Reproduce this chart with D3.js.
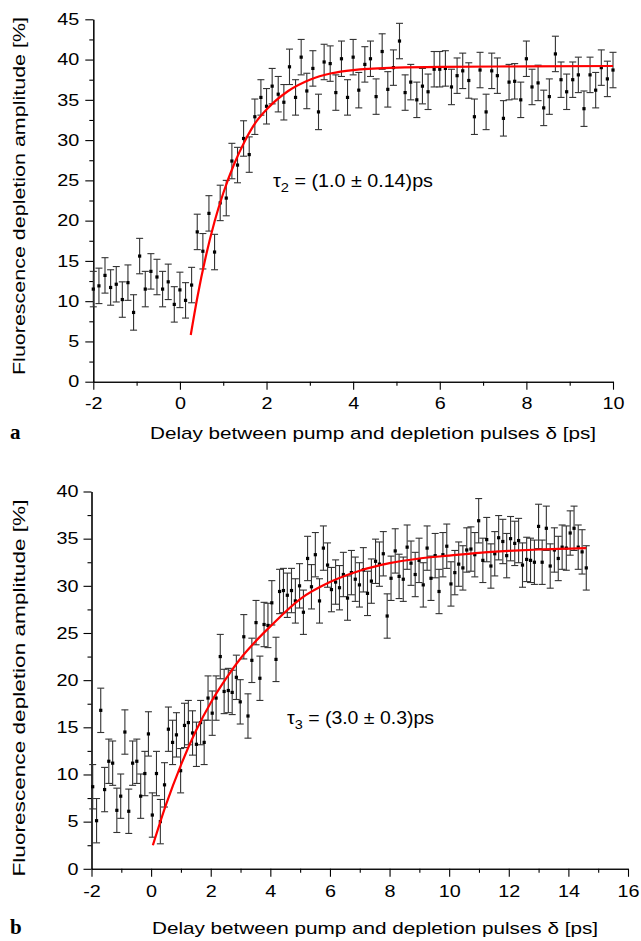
<!DOCTYPE html>
<html>
<head>
<meta charset="utf-8">
<script src="https://cdn.jsdelivr.net/npm/d3@7"></script>
<style>
body { margin: 0; background: #fff; }
svg text { font-family: "Liberation Sans", Arial, sans-serif; fill: #000; }
</style>
</head>
<body>
<svg id="chart" width="641" height="941"></svg>
<script>
// panel a: delay (ps) and depletion amplitude (%)
var topX = [-2.00,-1.87,-1.73,-1.60,-1.47,-1.33,-1.20,-1.07,-0.93,-0.80,-0.67,-0.53,-0.40,-0.27,-0.13,
    0.00,0.13,0.27,0.40,0.53,0.67,0.80,0.93,1.07,1.20,1.33,1.47,1.60,1.73,1.87,2.00,2.13,2.27,
    2.40,2.53,2.67,2.80,2.93,3.07,3.20,3.33,3.47,3.60,3.73,3.87,4.00,4.13,4.27,4.40,4.53,4.67,4.80,4.93,
    5.07,5.20,5.33,5.47,5.60,5.73,5.87,6.00,6.13,
    6.27,6.40,6.53,6.67,6.80,6.93,7.07,7.20,7.33,7.47,7.60,7.73,7.87,8.00,8.13,8.27,8.40,8.53,8.67,8.80,
    8.93,9.07,9.20,9.33,9.47,9.60,9.73,9.87,10.00];
var topY = [11.5,11.9,13.2,11.7,12.1,10.2,12.3,8.6,15.6,11.5,13.7,13.0,11.5,12.4,9.6,
    11.4,10.1,12.0,18.6,16.2,20.9,16.1,22.2,22.8,27.4,26.9,30.2,28.2,32.9,35.3,34.2,36.7,35.7,
    34.7,39.1,35.3,40.3,36.1,38.9,33.5,39.7,39.5,35.9,40.1,35.3,40.3,36.2,39.4,40.1,35.4,41.0,36.3,39.0,
    42.3,35.9,37.2,35.0,36.7,36.0,38.8,38.8,38.9,
    36.6,38.0,38.6,37.4,32.9,38.7,33.5,38.6,38.0,32.7,37.2,37.3,35.0,40.1,36.6,37.1,34.0,35.4,40.7,37.5,
    36.0,37.5,38.1,33.9,38.1,36.2,39.0,37.6,38.7];
var topErr = 2.2;
var topFitX = [0.25,0.4,0.6,0.8,1.0,1.25,1.5,1.75,2.0,2.5,3.0,3.5,4.0,5.0,6.0,8.0,10.0];
var topFitY = [5.8,10.4,15.6,19.9,23.4,27.0,29.9,32.2,33.8,36.1,37.5,38.3,38.7,39.0,39.1,39.15,39.2];

// panel b
var botX = [-1.96,-1.83,-1.69,-1.56,-1.42,-1.29,-1.15,-1.02,-0.88,-0.75,-0.62,-0.48,-0.35,-0.21,-0.09,
    0.04,0.18,0.31,0.45,0.58,0.72,0.85,0.99,1.12,1.25,1.39,1.52,1.66,1.78,1.91,2.05,2.18,2.32,2.45,
    2.59,2.72,2.86,2.99,3.11,3.25,3.38,3.52,3.65,3.79,3.92,4.05,4.19,4.31,
    4.44,4.57,4.71,4.84,4.98,5.11,5.25,5.38,5.51,5.65,5.78,5.92,6.05,6.19,6.32,6.45,6.59,6.72,6.85,6.99,
    7.12,7.26,7.39,7.53,7.66,7.79,7.92,8.05,8.19,8.32,8.46,8.59,8.72,8.86,8.99,9.13,9.26,9.39,9.53,9.66,
    9.79,9.92,
    10.06,10.19,10.32,10.46,10.59,10.73,10.86,10.99,11.13,11.26,11.40,11.53,11.66,11.80,11.93,12.06,
    12.20,12.33,12.46,12.60,12.73,12.86,13.00,13.12,13.26,13.39,13.53,13.66,13.79,13.93,14.06,14.19,
    14.33,14.46,14.60];
var botY = [8.7,5.1,16.8,8.4,11.4,11.2,6.2,7.7,14.5,6.1,11.2,11.4,7.7,10.1,14.3,
    5.7,10.1,5.0,8.9,14.8,13.4,14.2,10.4,15.2,15.5,14.4,13.2,15.5,13.4,18.1,16.5,18.1,22.5,18.8,
    18.9,18.7,20.3,17.7,24.6,16.2,22.1,26.1,20.2,25.9,25.8,28.2,22.2,29.4,
    29.5,29.0,29.5,28.4,30.0,27.2,32.9,29.9,33.3,28.4,34.0,32.2,29.6,30.4,29.8,31.2,28.7,31.4,30.7,30.1,
    31.7,29.2,30.5,32.6,32.3,33.4,26.8,30.8,33.7,31.0,30.7,34.1,32.4,31.2,32.7,30.1,34.0,30.8,33.2,29.4,
    33.3,34.2,
    30.2,31.4,32.3,31.9,33.8,33.9,33.3,36.9,32.7,34.9,32.1,33.4,35.1,34.7,33.2,35.0,
    34.5,34.8,32.2,32.8,32.7,32.5,36.3,32.5,36.1,32.1,33.8,32.9,34.1,34.0,35.6,36.1,
    34.1,33.6,31.9];
var botErr = 2.35;
var botFitX = [0.06,0.5,1.0,1.5,2.0,2.5,3.0,3.5,4.0,5.0,6.0,7.0,8.0,9.0,10.0,11.0,12.0,13.0,14.6];
var botFitY = [2.5,6.8,11.0,14.6,17.6,20.1,22.3,24.1,25.7,28.6,30.4,31.6,32.4,32.9,33.2,33.5,33.7,33.85,34.0];

var topXTicks = [-2,0,2,4,6,8,10];
var botXTicks = [-2,0,2,4,6,8,10,12,14,16];
var topYTicks = [0,5,10,15,20,25,30,35,40,45];
var botYTicks = [0,5,10,15,20,25,30,35,40];

var xTitle = 'Delay between pump and depletion pulses \u03b4 [ps]';
var yTitle = 'Fluorescence depletion amplitude [%]';

var svg = d3.select('#chart');
svg.append('rect').attr('width', 641).attr('height', 941).attr('fill', '#fff');

var stretch = 1.2;

function drawPanel(p) {
    var x = d3.scaleLinear().domain(p.xDomain).range(p.xRange);
    var y = d3.scaleLinear().domain(p.yDomain).range(p.yRange);
    var g = svg.append('g');

    // minor ticks first, no labels
    g.append('g')
        .attr('transform', 'translate(0,' + p.yRange[0] + ')')
        .call(d3.axisBottom(x).tickValues(p.xMinor).tickSize(4).tickSizeOuter(0).tickFormat(''));
    g.append('g')
        .attr('transform', 'translate(' + p.xRange[0] + ',0)')
        .call(d3.axisLeft(y).tickValues(p.yMinor).tickSize(4).tickSizeOuter(0).tickFormat(''));

    var xAxis = g.append('g')
        .attr('transform', 'translate(0,' + p.yRange[0] + ')')
        .call(d3.axisBottom(x).tickValues(p.xTicks).tickSize(8).tickSizeOuter(0)
            .tickFormat(function(d) { return String(d); }));
    xAxis.selectAll('text')
        .attr('y', 16)
        .attr('dy', '0.71em')
        .style('font-size', '16.5px')
        .attr('transform', 'scale(' + stretch + ',1)');

    var yAxis = g.append('g')
        .attr('transform', 'translate(' + p.xRange[0] + ',0)')
        .call(d3.axisLeft(y).tickValues(p.yTicks).tickSize(8).tickSizeOuter(0)
            .tickFormat(function(d) { return String(d); }));
    yAxis.selectAll('text')
        .attr('x', -p.labelGap / stretch)
        .style('font-size', '16.5px')
        .attr('transform', 'scale(' + stretch + ',1)');

    g.selectAll('.domain, .tick line').attr('stroke', '#000').attr('stroke-width', 1.1);

    var pts = d3.range(p.xs.length).map(function(i) { return {x: p.xs[i], v: p.ys[i]}; });

    var bars = g.append('g').attr('stroke', '#333').attr('stroke-width', 1.1);
    bars.selectAll('.stem')
        .data(pts)
        .enter().append('line')
        .attr('class', 'stem')
        .attr('x1', function(d) { return x(d.x); })
        .attr('x2', function(d) { return x(d.x); })
        .attr('y1', function(d) { return y(d.v - p.err); })
        .attr('y2', function(d) { return y(d.v + p.err); });
    bars.selectAll('.capTop')
        .data(pts)
        .enter().append('line')
        .attr('class', 'capTop')
        .attr('x1', function(d) { return x(d.x) - 3.5; })
        .attr('x2', function(d) { return x(d.x) + 3.5; })
        .attr('y1', function(d) { return y(d.v + p.err); })
        .attr('y2', function(d) { return y(d.v + p.err); });
    bars.selectAll('.capBot')
        .data(pts)
        .enter().append('line')
        .attr('class', 'capBot')
        .attr('x1', function(d) { return x(d.x) - 3.5; })
        .attr('x2', function(d) { return x(d.x) + 3.5; })
        .attr('y1', function(d) { return y(d.v - p.err); })
        .attr('y2', function(d) { return y(d.v - p.err); });

    g.selectAll('.pt')
        .data(pts)
        .enter().append('rect')
        .attr('class', 'pt')
        .attr('x', function(d) { return x(d.x) - 1.6; })
        .attr('y', function(d) { return y(d.v) - 1.6; })
        .attr('width', 3.2)
        .attr('height', 3.2)
        .attr('fill', '#000');

    var fit = d3.range(p.fitX.length).map(function(i) { return [p.fitX[i], p.fitY[i]]; });
    g.append('path')
        .datum(fit)
        .attr('fill', 'none')
        .attr('stroke', '#ff0000')
        .attr('stroke-width', 2.2)
        .attr('d', d3.line()
            .x(function(d) { return x(d[0]); })
            .y(function(d) { return y(d[1]); })
            .curve(d3.curveMonotoneX));

    // tau annotation
    var t = g.append('text')
        .attr('x', p.tauPos[0])
        .attr('y', p.tauPos[1])
        .attr('textLength', p.tauLen)
        .attr('lengthAdjust', 'spacingAndGlyphs')
        .style('font-size', '17.5px');
    t.append('tspan').text('\u03c4');
    t.append('tspan').attr('dy', 5).style('font-size', '13px').text(p.tauSub);
    t.append('tspan').attr('dy', -5).text(' = ' + p.tauText);

    // axis titles
    g.append('text')
        .attr('x', p.xTitlePos[0])
        .attr('y', p.xTitlePos[1])
        .attr('text-anchor', 'middle')
        .attr('textLength', p.xTitleLen)
        .attr('lengthAdjust', 'spacingAndGlyphs')
        .style('font-size', '17px')
        .text(xTitle);
    g.append('text')
        .attr('transform', 'translate(' + p.yTitlePos[0] + ',' + p.yTitlePos[1] + ') rotate(-90)')
        .attr('text-anchor', 'middle')
        .attr('textLength', p.yTitleLen)
        .attr('lengthAdjust', 'spacingAndGlyphs')
        .style('font-size', '17px')
        .text(yTitle);
    g.append('text')
        .attr('x', 10)
        .attr('y', p.xTitlePos[1])
        .style('font-family', '"Liberation Serif", "Times New Roman", serif')
        .style('font-weight', 'bold')
        .style('font-size', '21px')
        .text(p.letter);
}

drawPanel({
    xDomain: [-2, 10], xRange: [93.3, 613],
    yDomain: [0, 45], yRange: [381.7, 19.3],
    xTicks: topXTicks, xMinor: d3.range(-1, 10, 2),
    yTicks: topYTicks, yMinor: d3.range(2.5, 45, 5),
    labelGap: 14,
    xs: topX, ys: topY, err: topErr,
    fitX: topFitX, fitY: topFitY,
    tauPos: [273, 187], tauLen: 160, tauSub: '2', tauText: '(1.0 \u00b1 0.14)ps',
    xTitlePos: [373, 439], xTitleLen: 446,
    yTitlePos: [25, 196], yTitleLen: 358,
    letter: 'a'
});

drawPanel({
    xDomain: [-2, 16], xRange: [91.5, 628],
    yDomain: [0, 40], yRange: [868.8, 491.5],
    xTicks: botXTicks, xMinor: d3.range(-1, 16, 2),
    yTicks: botYTicks, yMinor: d3.range(2.5, 40, 5),
    labelGap: 13,
    xs: botX, ys: botY, err: botErr,
    fitX: botFitX, fitY: botFitY,
    tauPos: [287, 724], tauLen: 147, tauSub: '3', tauText: '(3.0 \u00b1 0.3)ps',
    xTitlePos: [375, 934], xTitleLen: 446,
    yTitlePos: [25, 688], yTitleLen: 377,
    letter: 'b'
});
</script>
</body>
</html>
